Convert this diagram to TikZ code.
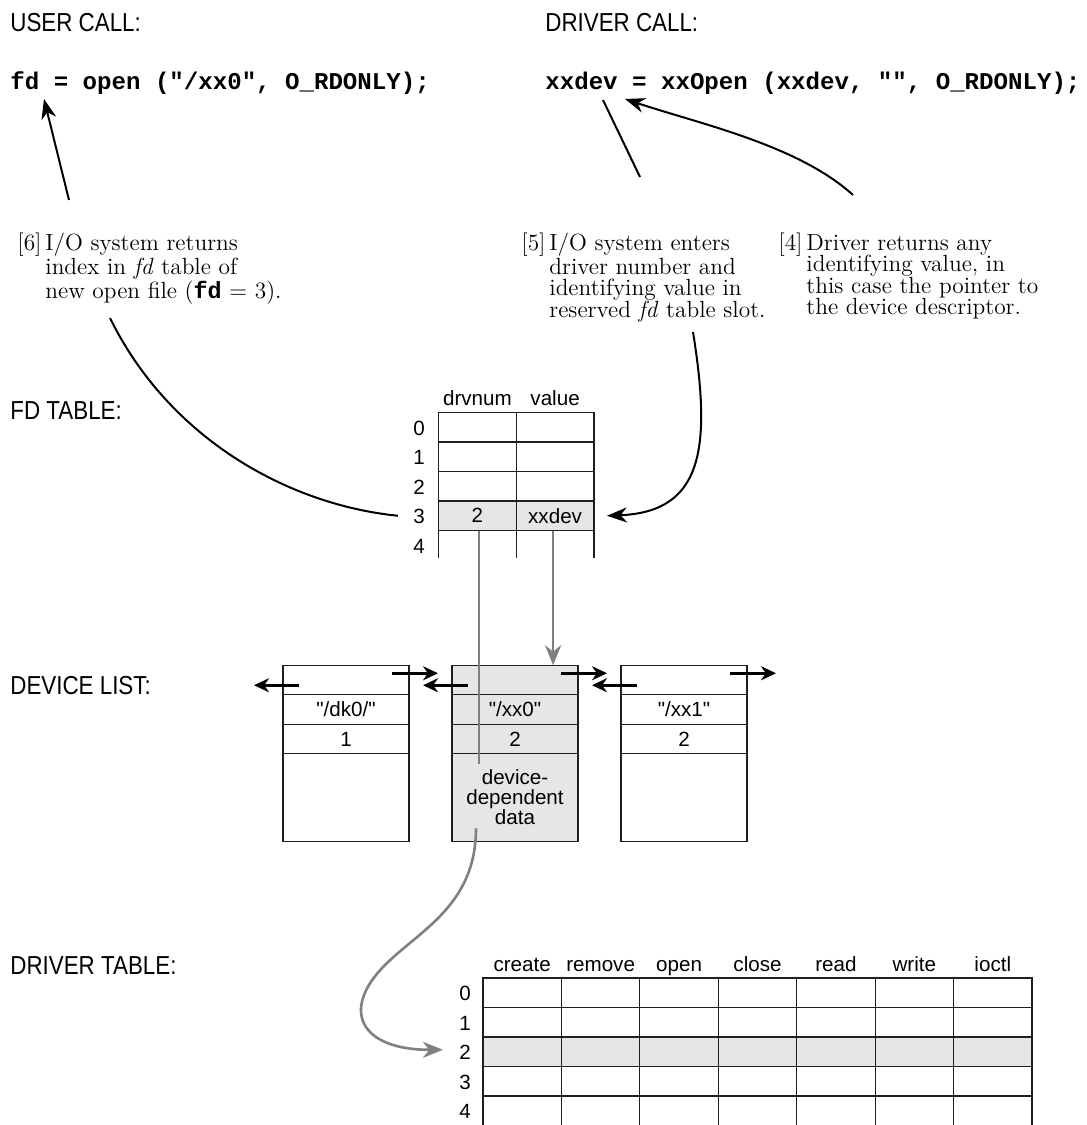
\documentclass[tikz,border=0pt]{standalone}
\usepackage{fontspec}
\usepackage{tikz}
\usetikzlibrary{arrows.meta, positioning, calc}
\newfontfamily\helv{Liberation Sans}
\newfontfamily\helvnarrow[FakeStretch=0.86]{Liberation Sans}
\newfontfamily\courfam{Liberation Mono}
\definecolor{cellgray}{RGB}{230, 230, 230}
\definecolor{linkgray}{RGB}{128, 128, 128}
\definecolor{gridline}{RGB}{30, 30, 30}
\newcommand{\fdcode}{{\courfam\bfseries fd}}

\tikzset{
  heading/.style={font=\helvnarrow\fontsize{13}{15}\selectfont, anchor=base west, inner sep=0pt},
  code/.style={font=\courfam\bfseries\fontsize{12.05}{14}\selectfont, anchor=base west, inner sep=0pt},
  tlabel/.style={font=\helv\fontsize{10.3}{10}\selectfont, inner sep=0pt},
  note/.style={font=\fontsize{11.7}{10.75}\selectfont, anchor=base west, inner sep=0pt},
  notenum/.style={font=\fontsize{11.7}{10.75}\selectfont, anchor=base east, inner sep=0pt},
  fdcell/.style={tlabel, draw=gridline, line width=0.6pt, minimum width=38.875pt, minimum height=14.75pt, outer sep=0pt},
  opencell/.style={tlabel, minimum width=38.875pt, minimum height=14.75pt, outer sep=0pt},
  dtcell/.style={draw=gridline, line width=0.6pt, minimum width=39.215pt, minimum height=14.75pt, inner sep=0pt, outer sep=0pt},
  dtopen/.style={minimum width=39.215pt, minimum height=14.75pt, inner sep=0pt, outer sep=0pt},
  devrow/.style={tlabel, draw=gridline, line width=0.6pt, minimum width=63pt, minimum height=14.75pt, outer sep=0pt},
  devdata/.style={minimum height=43.75pt, align=center},
  blackline/.style={line width=1pt},
  blackarrow/.style={line width=1pt, -{Stealth[length=10pt, width=7.5pt]}},
  ptrarrow/.style={line width=1.3pt, -{Stealth[length=7.5pt, width=7pt]}},
  grayline/.style={draw=linkgray, line width=1.3pt},
  grayarrow/.style={draw=linkgray, line width=1.3pt, -{Stealth[length=10pt, width=8pt]}, fill=none},
}

\begin{document}
\begin{tikzpicture}[x=0.5pt, y=-0.5pt]
\useasboundingbox (0,0) rectangle (1087,1125);
\fill[white] (0,0) rectangle (1087,1125);

% calls
\node[heading] (userhead) at (10,31) {USER CALL:};
\node[heading] (drvhead) at (545,31) {DRIVER CALL:};
\node[code] (usercall) at (10,89) {fd = open ("/xx0", O\_RDONLY);};
\node[code] (drvcall) at (545,89) {xxdev = xxOpen (xxdev, "", O\_RDONLY);};

% numbered steps
\node[note] (n6) at (45,250) {\parbox[t]{130pt}{\raggedright I/O system returns\\index in \textit{fd} table of\\new open file (\fdcode{} = 3).}};
\node[notenum] (n6num) at ([shift={(-3,0)}]n6.base west) {[6]};
\node[note] (n5) at (549,250) {\parbox[t]{130pt}{\raggedright I/O system enters\\driver number and\\identifying value in\\reserved \textit{fd} table slot.}};
\node[notenum] (n5num) at ([shift={(-3,0)}]n5.base west) {[5]};
\node[note] (n4) at (806,250) {\parbox[t]{130pt}{\raggedright Driver returns any\\identifying value, in\\this case the pointer to\\the device descriptor.}};
\node[notenum] (n4num) at ([shift={(-3,0)}]n4.base west) {[4]};

% fd table
\node[heading] (fdhead) at (10,419) {FD TABLE:};
\foreach \r in {0,1,2}
  \foreach \c/\x in {1/477.4, 2/555.1}
    \node[fdcell] (fd-\r-\c) at (\x,{427.25+29.5*\r}) {};
\node[fdcell, fill=cellgray] (fd-3-1) at (477.4,515.75) {2};
\node[fdcell, fill=cellgray] (fd-3-2) at (555.1,515.75) {xxdev};
\node[opencell] (fd-4-1) at (477.4,545.25) {};
\node[opencell] (fd-4-2) at (555.1,545.25) {};
\draw[gridline, line width=0.6pt] (fd-4-1.north west) -- ++(0,27) (fd-4-2.north west) -- ++(0,27) (fd-4-2.north east) -- ++(0,27);
\node[tlabel, anchor=base] at ($(fd-0-1.north)+(0,-7)$) {drvnum};
\node[tlabel, anchor=base] at ($(fd-0-2.north)+(0,-7)$) {value};
\foreach \r in {0,...,4}
  \node[tlabel] (fdnum\r) at ($(fd-\r-1.west)+(-19.5,1)$) {\r};

% device list
\node[heading] (devhead) at (10,694) {DEVICE LIST:};
\node[devrow] (dk-top) at (346,680) {};
\node[devrow, below=0pt of dk-top] (dk-name) {"/dk0/"};
\node[devrow, below=0pt of dk-name] (dk-num) {1};
\node[devrow, devdata, below=0pt of dk-num] (dk-data) {};
\node[devrow, fill=cellgray] (xx-top) at (515,680) {};
\node[devrow, fill=cellgray, below=0pt of xx-top] (xx-name) {"/xx0"};
\node[devrow, fill=cellgray, below=0pt of xx-name] (xx-num) {2};
\node[devrow, devdata, fill=cellgray, below=0pt of xx-num] (xx-data) {device-\\dependent\\data};
\node[devrow] (xy-top) at (684,680) {};
\node[devrow, below=0pt of xy-top] (xy-name) {"/xx1"};
\node[devrow, below=0pt of xy-name] (xy-num) {2};
\node[devrow, devdata, below=0pt of xy-num] (xy-data) {};

% list links
\draw[ptrarrow] ([shift={(16,20)}]dk-top.north west) -- ([shift={(-29,20)}]dk-top.north west);
\draw[ptrarrow] ([shift={(-17,8)}]dk-top.north east) -- ([shift={(-14,8)}]xx-top.north west);
\draw[ptrarrow] ([shift={(16,20)}]xx-top.north west) -- ([shift={(14,20)}]dk-top.north east);
\draw[ptrarrow] ([shift={(-17,8)}]xx-top.north east) -- ([shift={(-14,8)}]xy-top.north west);
\draw[ptrarrow] ([shift={(16,20)}]xy-top.north west) -- ([shift={(14,20)}]xx-top.north east);
\draw[ptrarrow] ([shift={(-17,8)}]xy-top.north east) -- ([shift={(29,8)}]xy-top.north east);

% driver table
\node[heading] (dthead) at (10,974) {DRIVER TABLE:};
\foreach \r in {0,1,3}
  \foreach \c in {1,...,7}
    \node[dtcell] (dt-\r-\c) at ({522.2+78.43*(\c-1)},{992.75+29.5*\r}) {};
\foreach \c in {1,...,7}
  \node[dtcell, fill=cellgray] (dt-2-\c) at ({522.2+78.43*(\c-1)},1051.75) {};
\foreach \c in {1,...,7} {
  \node[dtopen] (dt-4-\c) at ({522.2+78.43*(\c-1)},1110.75) {};
  \draw[gridline, line width=0.6pt] (dt-4-\c.north west) -- (dt-4-\c.south west);
}
\draw[gridline, line width=0.6pt] (dt-4-7.north east) -- (dt-4-7.south east);
\foreach \c/\hd in {1/create, 2/remove, 3/open, 4/close, 5/read, 6/write, 7/ioctl}
  \node[tlabel, anchor=base] at ($(dt-0-\c.north)+(0,-7)$) {\hd};
\foreach \r in {0,...,4}
  \node[tlabel] (dtnum\r) at ($(dt-\r-1.west)+(-18,1)$) {\r};

% step connectors
\draw[blackarrow] ([shift={(24,-50)}]n6.base west) -- ([shift={(34,10)}]usercall.base west);
\draw[blackline] ([shift={(91,-73)}]n5.base west) -- ([shift={(58,11)}]drvcall.base west);
\draw[blackarrow] ([shift={(47,-55)}]n4.base west) .. controls +(-55,-50) and +(75,25) .. ([shift={(80,10)}]drvcall.base west);
\draw[blackline] ([shift={(65,68)}]n6.base west) .. controls (170,440) and (290,505) .. ([shift={(-15,-1)}]fdnum3.west);
\draw[blackarrow] ([shift={(144,82)}]n5.base west) .. controls (712,450) and (702,512) .. ([shift={(13,0)}]fd-3-2.east);

% pointers into the device list and driver table
\draw[grayline] (fd-3-1.south) ++(1.5,0) coordinate (dn) -- (dn |- xx-data.north) -- ++(0,10);
\draw[grayarrow] (fd-3-2.south) ++(-2,0) coordinate (vn) -- (vn |- xx-top.north);
\draw[grayarrow] ([shift={(-39,-13)}]xx-data.south) .. controls (476,905) and (420,930) .. (385,965) .. controls (340,1010) and (360,1050) .. ([shift={(-16,-3)}]dtnum2.west);
\end{tikzpicture}
\end{document}
